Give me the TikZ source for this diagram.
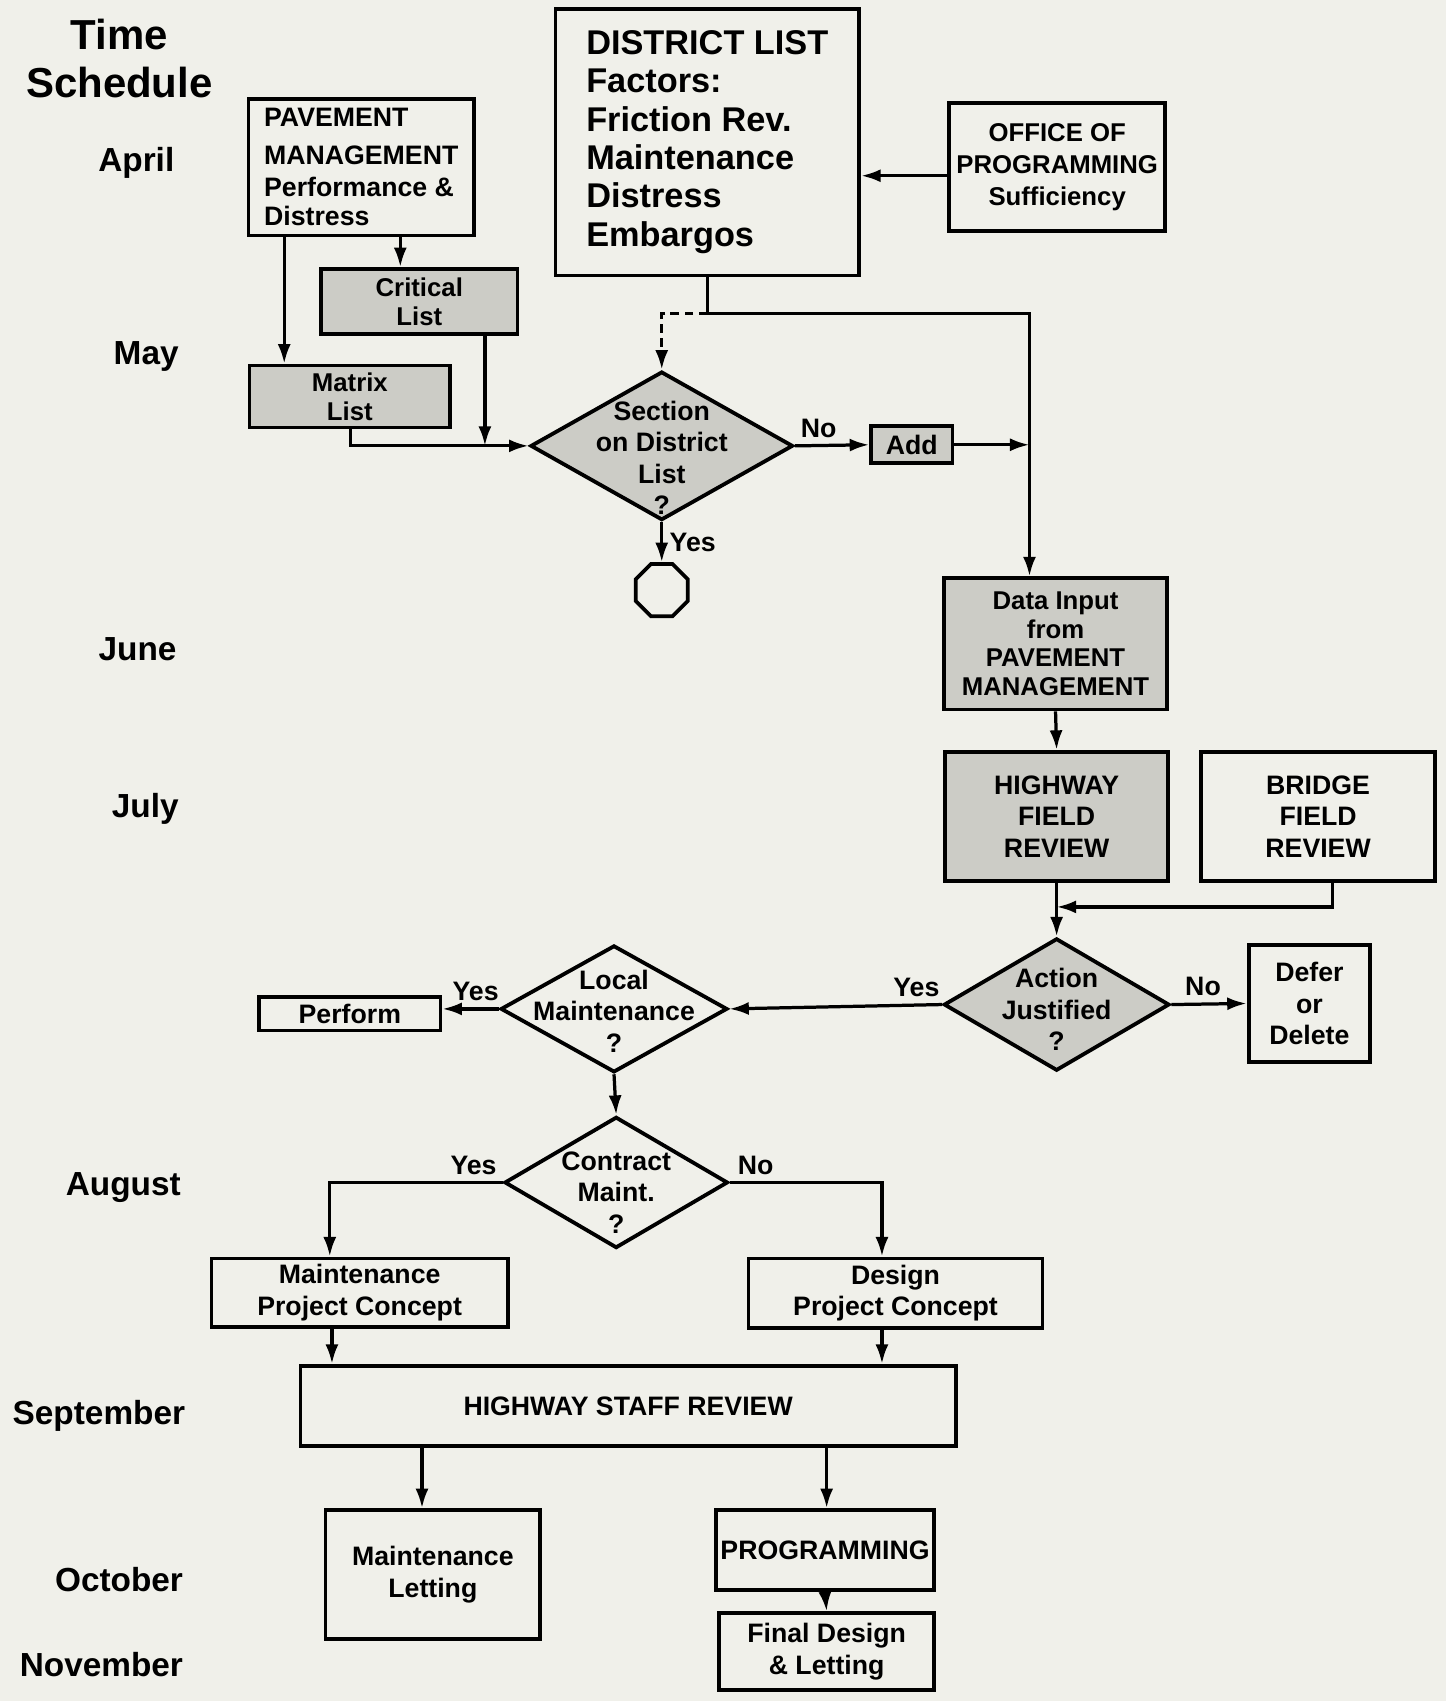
\documentclass[tikz,border=0pt]{standalone}
\usepackage{fontspec}
\setmainfont{Liberation Sans}
\usetikzlibrary{shapes.geometric,arrows.meta}
\definecolor{paper}{RGB}{240,240,234}
\definecolor{screen}{RGB}{204,204,198}

\begin{document}
\begin{tikzpicture}[x=0.2mm, y=-0.2mm, line width=1.7pt, >={Latex[length=3.6mm,width=2.4mm]},
  font=\bfseries\fontsize{14}{16.5}\selectfont,
  box/.style={rectangle, draw, line width=2pt, align=center, inner sep=0.5mm},
  shaded/.style={fill=screen},
  tight/.style={font=\bfseries\fontsize{13.5}{15}\selectfont},
  decision/.style={diamond, draw, line width=2pt, inner sep=0pt},
  month/.style={anchor=east, text height=12.5pt, text depth=0pt, font=\bfseries\fontsize{17.5}{20}\selectfont}]
\fill[paper] (0,0) rectangle (1333,1568);
% time schedule
\node[align=center, font=\bfseries\fontsize{22}{25}\selectfont] (title) at (110,54) {Time\\Schedule};
\node[month] (apr) at (168,147) {April};
\node[month] (may) at (172,325) {May};
\node[month] (jun) at (170,598) {June};
\node[month] (jul) at (172,743) {July};
\node[month] (aug) at (174,1091) {August};
\node[month] (sep) at (178,1302) {September};
\node[month] (oct) at (176,1456) {October};
\node[month] (nov) at (176,1534) {November};
% boxes
\node[box, align=left, minimum width=41.6mm, minimum height=25.2mm] (pave) at (333,154) {PAVEMENT\\[3.3pt]MANAGEMENT\\[0.5pt]Performance \&\\[-1.2pt]Distress};
\node[box, align=left, minimum width=56mm, minimum height=49.2mm, font=\bfseries\fontsize{18}{20.1}\selectfont] (dist) at (652,131) {DISTRICT LIST\\Factors:\\Friction Rev.\\Maintenance\\Distress\\Embargos};
\node[box, minimum width=39.8mm, minimum height=23.6mm, font=\bfseries\fontsize{13.5}{16.7}\selectfont] (office) at (974.5,154) {OFFICE OF\\PROGRAMMING\\Sufficiency};
\node[box, shaded, tight, minimum width=36.2mm, minimum height=12mm] (crit) at (386.5,278) {Critical\\List};
\node[box, shaded, tight, minimum width=37mm, minimum height=11.4mm] (matrix) at (322.5,365.5) {Matrix\\List};
\node[decision, shaded, minimum width=48.4mm, minimum height=27.4mm,
  label={[align=center, yshift=-2.2mm]center:Section\\on District\\List\\?}] (sect) at (610,411) {};
\node[box, shaded, minimum width=15mm, minimum height=6.8mm] (add) at (840.5,410) {Add};
\node[regular polygon, regular polygon sides=8, draw, line width=2pt, minimum size=10.4mm, inner sep=0pt] (stop) at (610,544) {};
\node[box, shaded, tight, minimum width=41.2mm, minimum height=24.2mm] (data) at (973,593.5) {Data Input\\from\\PAVEMENT\\MANAGEMENT};
\node[box, shaded, minimum width=41.2mm, minimum height=23.8mm] (hfr) at (974,752.5) {HIGHWAY\\FIELD\\REVIEW};
\node[box, minimum width=43.2mm, minimum height=23.8mm] (bfr) at (1215,752.5) {BRIDGE\\FIELD\\REVIEW};
\node[decision, shaded, minimum width=41.6mm, minimum height=24.4mm,
  label={[align=center, yshift=-0.9mm]center:Action\\Justified\\?}] (act) at (974,926) {};
\node[box, minimum width=22.4mm, minimum height=21.6mm] (defer) at (1207,925) {Defer\\or\\Delete};
\node[decision, minimum width=41.8mm, minimum height=23.4mm,
  label={[align=center, yshift=-0.4mm]center:Local\\Maintenance\\?}] (local) at (566,930) {};
\node[box, minimum width=33.4mm, minimum height=6.2mm] (perform) at (322.5,934.5) {Perform};
\node[decision, minimum width=41.2mm, minimum height=24.2mm,
  label={[align=center, yshift=-1.8mm]center:Contract\\Maint.\\?}] (contr) at (568,1090) {};
\node[box, minimum width=54.6mm, minimum height=12.6mm] (mpc) at (331.5,1191.5) {Maintenance\\Project Concept};
\node[box, minimum width=54.2mm, minimum height=12.8mm] (dpc) at (825.5,1192) {Design\\Project Concept};
\node[box, minimum width=120.8mm, minimum height=14.8mm] (staff) at (579,1296) {HIGHWAY STAFF REVIEW};
\node[box, minimum width=39.6mm, minimum height=23.8mm] (mlet) at (399,1451.5) {Maintenance\\Letting};
\node[box, minimum width=40.2mm, minimum height=14.8mm] (prog) at (760.5,1429) {PROGRAMMING};
\node[box, minimum width=39.6mm, minimum height=14.2mm] (final) at (762,1522.5) {Final Design\\\& Letting};
% connectors
\coordinate (j1) at (447,411);
\coordinate (j2) at (949,289);
\draw[->] (office.west |- 0,162) -- (dist.east |- 0,162);
\draw[->] (pave.south -| 262,0) -- (matrix.north -| 262,0);
\draw[->] (pave.south -| 369,0) -- (crit.north -| 369,0);
\draw[->] (crit.south -| j1) -- (j1);
\draw[->] (matrix.south -| 323,0) |- (sect.west);
\draw[->] (dist.south) |- (j2) -- (data.north -| j2);
\draw[->, dash pattern=on 1.6mm off 1mm] (dist.south |- j2) -| (sect.north);
\draw[->] (sect.east) -- node[above, pos=0.32] {No} (add.west);
\draw[->] (add.east) -- (add.east -| j2);
\draw[->] (sect.south) -- node[right] {Yes} (stop.north);
\draw[->] (data.south) -- (hfr.north);
\draw[->] (hfr.south) -- (act.north);
\draw[->] (bfr.south -| 1228,0) |- (act.north |- 0,836);
\draw[->] (act.east) -- node[above, pos=0.42] {No} (defer.west);
\draw[->] (act.west) -- node[above, pos=0.12] {Yes} (local.east);
\draw[->] (local.west) -- node[above, pos=0.41] {Yes} (perform.east |- local.west);
\draw[->] (local.south) -- (contr.north);
\draw[->] (contr.west) -| node[above, pos=0.084] {Yes} (mpc.north -| 304,0);
\draw[->] (contr.east) -| node[above, pos=0.085] {No} (dpc.north -| 813,0);
\draw[->] (mpc.south -| 306,0) -- (staff.north -| 306,0);
\draw[->] (dpc.south -| 813,0) -- (staff.north -| 813,0);
\draw[->] (staff.south -| 389,0) -- (mlet.north -| 389,0);
\draw[->] (staff.south -| 762,0) -- (prog.north -| 762,0);
\draw[->] (prog.south) -- (final.north);
\end{tikzpicture}
\end{document}
